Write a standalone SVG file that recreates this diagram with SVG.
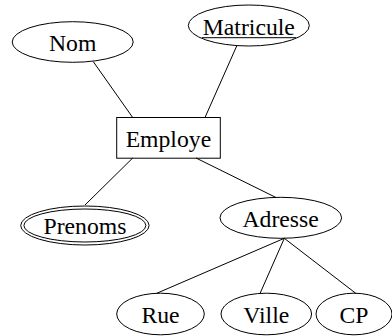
<svg xmlns="http://www.w3.org/2000/svg" width="392" height="336" viewBox="0 0 392 336">
<style>
.s{fill:none;stroke:#000;stroke-width:1}
.t{font-family:"Liberation Serif","Times New Roman",serif;font-size:23.7px;fill:#000;text-anchor:middle}
</style>
<rect width="392" height="336" fill="#fff"/>
<g id="connectors">
<line class="s" x1="93.3" y1="61.7" x2="132.7" y2="117.5"/>
<line class="s" x1="236.7" y1="46" x2="205" y2="117.5"/>
<line class="s" x1="132.7" y1="158" x2="85" y2="205"/>
<line class="s" x1="196" y1="158" x2="276" y2="197.5"/>
<line class="s" x1="284.3" y1="238.3" x2="156.7" y2="293.3"/>
<line class="s" x1="284.3" y1="238.3" x2="260" y2="293.5"/>
<line class="s" x1="284.3" y1="238.3" x2="356" y2="293.5"/>
</g>
<g id="nom">
<ellipse class="s" cx="72.7" cy="42" rx="60.5" ry="20.3"/>
<text class="t" x="72.7" y="50.7">Nom</text>
</g>
<g id="matricule">
<ellipse class="s" cx="248.8" cy="25.5" rx="60.5" ry="20.5"/>
<text class="t" x="248.8" y="34.5">Matricule</text>
<line class="s" x1="202" y1="37.7" x2="296" y2="37.7"/>
</g>
<g id="employe">
<rect class="s" x="116.7" y="117.5" width="103.6" height="40.7"/>
<text class="t" x="168.4" y="146.7">Employe</text>
</g>
<g id="prenoms">
<ellipse class="s" cx="84.9" cy="225.5" rx="64.2" ry="19.5"/>
<ellipse class="s" cx="84.9" cy="225.5" rx="61" ry="16.5"/>
<text class="t" x="85" y="234">Prenoms</text>
</g>
<g id="adresse">
<ellipse class="s" cx="280.8" cy="217.8" rx="60.8" ry="20.5"/>
<text class="t" x="280.6" y="226.7">Adresse</text>
</g>
<g id="rue">
<ellipse class="s" cx="160.5" cy="314" rx="43.8" ry="20.8"/>
<text class="t" x="160.5" y="322.7">Rue</text>
</g>
<g id="ville">
<ellipse class="s" cx="266.3" cy="314" rx="45.3" ry="20.8"/>
<text class="t" x="266.3" y="322.7">Ville</text>
</g>
<g id="cp">
<ellipse class="s" cx="354" cy="314" rx="38" ry="20.8"/>
<text class="t" x="354" y="322.7">CP</text>
</g>
</svg>
